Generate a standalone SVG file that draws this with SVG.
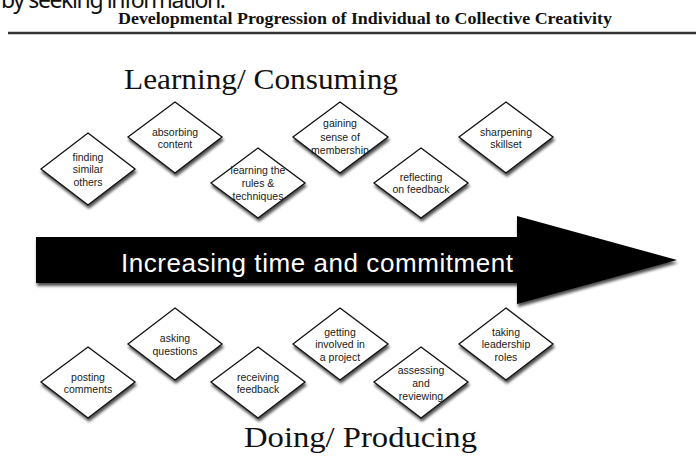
<svg xmlns="http://www.w3.org/2000/svg" width="696" height="469" viewBox="0 0 696 469">
  <style>
    .head { font-family: "Liberation Serif", "Times New Roman", serif; fill: #111; }
    .node polygon { fill: #fff; stroke: #111; stroke-width: 1.3; filter: url(#shadow); }
    .node text { font-family: "Liberation Sans", Arial, sans-serif; font-size: 10.5px; fill: #1a1a1a; text-anchor: middle; }
    .band { font-family: "Liberation Sans", Arial, sans-serif; font-size: 26px; fill: #fff; }
  </style>
  <defs>
    <filter id="shadow" x="-20%" y="-20%" width="150%" height="150%">
      <feGaussianBlur in="SourceAlpha" stdDeviation="1.8"/>
      <feOffset dx="1" dy="3" result="b"/>
      <feComponentTransfer><feFuncA type="linear" slope="0.7"/></feComponentTransfer>
      <feMerge><feMergeNode/><feMergeNode in="SourceGraphic"/></feMerge>
    </filter>
  </defs>

  <rect width="696" height="469" fill="#fff"/>

  <!-- page text above the figure -->
  <text x="1" y="8" font-family="'Noto Sans', 'Open Sans', sans-serif" font-size="23" fill="#111" textLength="225">by seeking information.</text>

  <!-- caption and rule -->
  <text class="head" x="118" y="24" font-size="17" font-weight="bold" textLength="494" lengthAdjust="spacingAndGlyphs">Developmental Progression of Individual to Collective Creativity</text>
  <line x1="8" y1="33" x2="696" y2="33" stroke="#333" stroke-width="2.5"/>

  <text class="head" x="124" y="89" font-size="29" textLength="274" lengthAdjust="spacingAndGlyphs">Learning/ Consuming</text>
  <text class="head" x="244" y="447" font-size="30" textLength="233" lengthAdjust="spacingAndGlyphs">Doing/ Producing</text>

  <!-- central arrow -->
  <g id="arrow" filter="url(#shadow)">
    <polygon points="36,237 517,237 517,216 677,260 517,304 517,283 36,283" fill="#000"/>
  </g>
  <text class="band" x="121" y="272" textLength="392">Increasing time and commitment</text>

  <!-- upper row -->
  <g id="finding" class="node"><polygon points="88,133 135,169 88,205 41,169"/>
    <text x="88" y="161">finding</text><text x="88" y="173">similar</text><text x="88" y="186">others</text></g>
  <g id="absorbing" class="node"><polygon points="175,102 222,137 175,173 128,137"/>
    <text x="175" y="136">absorbing</text><text x="175" y="148">content</text></g>
  <g id="learning" class="node"><polygon points="258,148 305,183 258,218 211,183"/>
    <text x="258" y="174">learning the</text><text x="258" y="187">rules &amp;</text><text x="258" y="200">techniques</text></g>
  <g id="gaining" class="node"><polygon points="340,102 388,137 340,173 293,137"/>
    <text x="340" y="127">gaining</text><text x="340" y="141">sense of</text><text x="340" y="154">membership</text></g>
  <g id="reflecting" class="node"><polygon points="421,148 468,183 421,218 374,183"/>
    <text x="421" y="181">reflecting</text><text x="421" y="193">on feedback</text></g>
  <g id="sharpening" class="node"><polygon points="506,102 553,137 506,173 459,137"/>
    <text x="506" y="136">sharpening</text><text x="506" y="148">skillset</text></g>

  <!-- lower row -->
  <g id="posting" class="node"><polygon points="88,347 135,382 88,418 41,382"/>
    <text x="88" y="381">posting</text><text x="88" y="393">comments</text></g>
  <g id="asking" class="node"><polygon points="175,308 222,344 175,380 128,344"/>
    <text x="175" y="342">asking</text><text x="175" y="355">questions</text></g>
  <g id="receiving" class="node"><polygon points="258,347 305,382 258,418 211,382"/>
    <text x="258" y="381">receiving</text><text x="258" y="393">feedback</text></g>
  <g id="getting" class="node"><polygon points="340,308 388,344 340,380 293,344"/>
    <text x="340" y="336">getting</text><text x="340" y="348">involved in</text><text x="340" y="361">a project</text></g>
  <g id="assessing" class="node"><polygon points="421,347 468,382 421,418 374,382"/>
    <text x="421" y="374">assessing</text><text x="421" y="387">and</text><text x="421" y="400">reviewing</text></g>
  <g id="taking" class="node"><polygon points="506,308 553,344 506,380 459,344"/>
    <text x="506" y="336">taking</text><text x="506" y="348">leadership</text><text x="506" y="361">roles</text></g>

  <g id="connectors"/>
</svg>
